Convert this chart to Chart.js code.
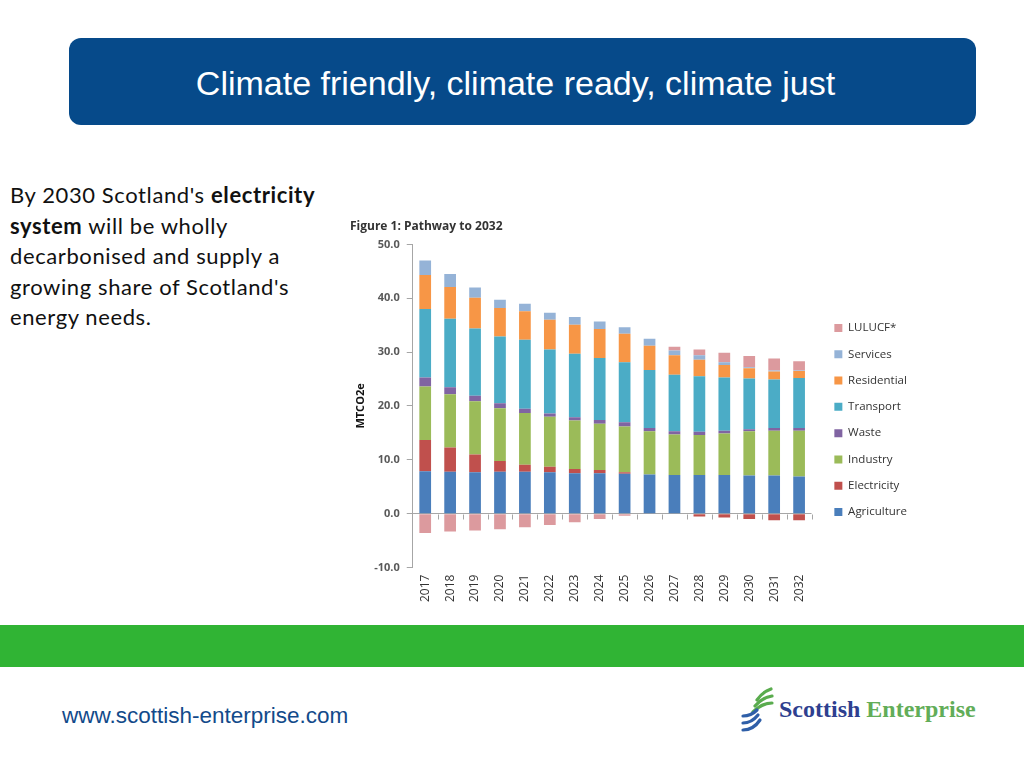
<!DOCTYPE html>
<html>
<head>
<meta charset="utf-8">
<script src="https://cdn.jsdelivr.net/npm/chart.js@4.4.0/dist/chart.umd.min.js"></script>
<style>
	body { margin: 0; width: 1024px; height: 768px; background: #fff; position: relative; overflow: hidden; }
	.banner {
		position: absolute; left: 69px; top: 38px; width: 907px; height: 87px;
		background: #064a8a; border-radius: 12px;
		color: #fff; font: 34px "Liberation Sans", Arial, sans-serif;
		line-height: 84px; padding-top: 3px; text-align: center; box-sizing: border-box; padding-right: 14px;
	}
	.intro {
		position: absolute; left: 10px; top: 180px; width: 340px;
		font: 22px Lato, "Open Sans", sans-serif; letter-spacing: 0.6px; line-height: 30.5px; color: #111;
	}
	.band { position: absolute; left: 0; top: 625px; width: 1024px; height: 42px; background: #30b434; }
	.site {
		position: absolute; left: 62px; top: 703px;
		font: 22.5px "Liberation Sans", Arial, sans-serif; color: #124a8a;
	}
	.logo { position: absolute; left: 741px; top: 686px; }
	.brand {
		position: absolute; left: 779px; top: 696px; white-space: nowrap;
		font: bold 24px "Liberation Serif", "DejaVu Serif", serif;
	}
	.brand .a { color: #2e3f8f; }
	.brand .b { color: #62ad58; }
	#wrap { position: absolute; left: 345px; top: 215px; width: 585px; height: 400px; }
</style>
</head>
<body>

<div class="banner">Climate friendly, climate ready, climate just</div>

<div class="intro">By 2030 Scotland's <b>electricity</b><br><b>system</b> will be wholly<br>decarbonised and supply a<br>growing share of Scotland's<br>energy needs.</div>

<div id="wrap"><canvas id="chart"></canvas></div>

<div class="band"></div>
<div class="site">www.scottish-enterprise.com</div>

<svg class="logo" width="36" height="48" viewBox="0 0 36 48">
	<g fill="none" stroke-width="3.2" stroke-linecap="round">
		<path d="M16 14 C20 8, 24 5, 30 3" stroke="#5aac4e"/>
		<path d="M14 20 C19 14, 24 11, 31 10" stroke="#5aac4e"/>
		<path d="M12 26 C18 20, 24 17, 31 17" stroke="#5aac4e"/>
		<path d="M2 30 C8 30, 12 28, 16 24" stroke="#2f5fa8"/>
		<path d="M2 37 C9 37, 13 34, 17 29" stroke="#2f5fa8"/>
		<path d="M2 44 C10 44, 15 40, 19 34" stroke="#2f5fa8"/>
	</g>
</svg>
<div class="brand"><span class="a">Scottish</span> <span class="b">Enterprise</span></div>

<script>
( function() { 'use strict';

	// emissions by sector, MtCO2e
	const years = [ '2017', '2018', '2019', '2020', '2021', '2022', '2023', '2024',
		'2025', '2026', '2027', '2028', '2029', '2030', '2031', '2032' ];
	const agriculture = [ 7.9, 7.8, 7.7, 7.8, 7.8, 7.7, 7.5, 7.5, 7.4, 7.3, 7.2, 7.2, 7.2, 7.1, 7.1, 6.9 ];
	const electricity = [ 5.8, 4.5, 3.3, 2.0, 1.3, 1.0, 0.8, 0.6, 0.3, 0, -0.1, -0.5, -0.7, -1.0, -1.2, -1.2 ];
	const industry = [ 9.9, 9.9, 9.9, 9.8, 9.6, 9.3, 9.0, 8.6, 8.5, 8.0, 7.5, 7.4, 7.7, 8.2, 8.3, 8.5 ];
	const waste = [ 1.7, 1.3, 1.0, 0.9, 0.8, 0.6, 0.6, 0.7, 0.8, 0.6, 0.6, 0.6, 0.5, 0.4, 0.5, 0.5 ];
	const transport = [ 12.7, 12.7, 12.5, 12.4, 12.8, 11.9, 11.8, 11.5, 11.1, 10.8, 10.5, 10.3, 9.9, 9.4, 9.0, 9.3 ];
	const residential = [ 6.3, 5.9, 5.7, 5.3, 5.3, 5.5, 5.4, 5.4, 5.3, 4.5, 3.6, 3.1, 2.3, 1.9, 1.5, 1.3 ];
	const services = [ 2.7, 2.4, 1.9, 1.5, 1.4, 1.3, 1.4, 1.4, 1.2, 1.3, 0.9, 0.8, 0.5, 0.2, 0.2, 0.1 ];
	const lulucf = [ -3.6, -3.3, -3.1, -2.9, -2.5, -2.1, -1.6, -1.0, -0.4, 0, 0.7, 1.1, 1.8, 2.1, 2.2, 1.7 ];

	const yTicks = [ 50, 40, 30, 20, 10, 0, -10 ];

	const sectors = [
		[ 'Agriculture', agriculture, '#4a7ebb' ],
		[ 'Electricity', electricity, '#c0504d' ],
		[ 'Industry', industry, '#9bbb59' ],
		[ 'Waste', waste, '#8064a2' ],
		[ 'Transport', transport, '#4bacc6' ],
		[ 'Residential', residential, '#f79646' ],
		[ 'Services', services, '#95b3d7' ],
		[ 'LULUCF*', lulucf, '#dc9a9e' ]
	];

	/**
	 * Small tick marks hanging off the zero line between the bars
	 */
	const zeroTicks = {
		id: 'zeroTicks',
		beforeDatasetsDraw: function( chart ) {
			let x = chart.scales.x;
			let y0 = Math.round( chart.scales.y.getPixelForValue( 0 ) ) + 0.5;
			let step = x.width / years.length;
			let ctx = chart.ctx;
			ctx.save();
			ctx.strokeStyle = '#a6a6a6';
			ctx.lineWidth = 1;
			ctx.beginPath();
			for ( let i = 1; i <= years.length; i++ ) {
				let px = Math.round( x.left + i * step ) + 0.5;
				ctx.moveTo( px, y0 );
				ctx.lineTo( px, y0 + 5 );
			}
			ctx.stroke();
			ctx.restore();
		}
	};

	/**
	 * Nudge the legend away from the plot, as in the figure
	 */
	const legendShift = {
		id: 'legendShift',
		afterLayout: function( chart ) {
			let lg = chart.legend;
			lg.left += 8;
			lg.right += 8;
			lg.top += 8;
			lg.bottom += 8;
		}
	};

	new Chart( document.getElementById( 'chart' ), {
		type: 'bar',
		data: {
			labels: years,
			datasets: sectors.map( function( s ) {
				return {
					label: s[0],
					data: s[1],
					backgroundColor: s[2],
					borderWidth: 0,
					categoryPercentage: 1,
					barPercentage: 0.47
				};
			} )
		},
		options: {
			responsive: true,
			maintainAspectRatio: false,
			animation: false,
			layout: { padding: { left: 5, right: 21, top: 0, bottom: 6 } },
			plugins: {
				title: {
					display: true,
					text: 'Figure 1: Pathway to 2032',
					align: 'start',
					color: '#333',
					font: { family: '"Open Sans", sans-serif', size: 12, weight: 'bold' },
					padding: { top: 4, bottom: 11 }
				},
				legend: {
					position: 'right',
					reverse: true,
					labels: {
						boxWidth: 8,
						boxHeight: 8,
						padding: 14.8,
						color: '#333',
						font: { family: '"Open Sans", sans-serif', size: 11.5 }
					}
				},
				tooltip: { enabled: false }
			},
			scales: {
				x: {
					stacked: true,
					grid: { display: false, drawTicks: false },
					border: { display: false },
					ticks: {
						minRotation: 90,
						maxRotation: 90,
						padding: 7,
						color: '#333',
						font: { family: '"Open Sans", sans-serif', size: 12 }
					}
				},
				y: {
					stacked: true,
					min: -10,
					max: 50,
					afterBuildTicks: function( axis ) {
						axis.ticks = yTicks.map( function( v ) { return { value: v }; } );
					},
					border: { display: true, color: '#a6a6a6' },
					grid: {
						color: function( c ) { return c.tick && c.tick.value === 0 ? '#a6a6a6' : 'rgba(0,0,0,0)'; },
						tickColor: '#a6a6a6',
						tickLength: 6
					},
					ticks: {
						color: '#595959',
						padding: 7,
						font: { family: '"Open Sans", sans-serif', size: 11, weight: 'bold' },
						callback: function( v ) { return Number( v ).toFixed( 1 ); }
					},
					title: {
						display: true,
						text: 'MTCO2e',
						color: '#111',
						padding: { top: 4, bottom: 0 },
						font: { family: '"Open Sans", sans-serif', size: 11, weight: 'bold' }
					}
				}
			}
		},
		plugins: [ zeroTicks, legendShift ]
	} );

})();
</script>
</body>
</html>
